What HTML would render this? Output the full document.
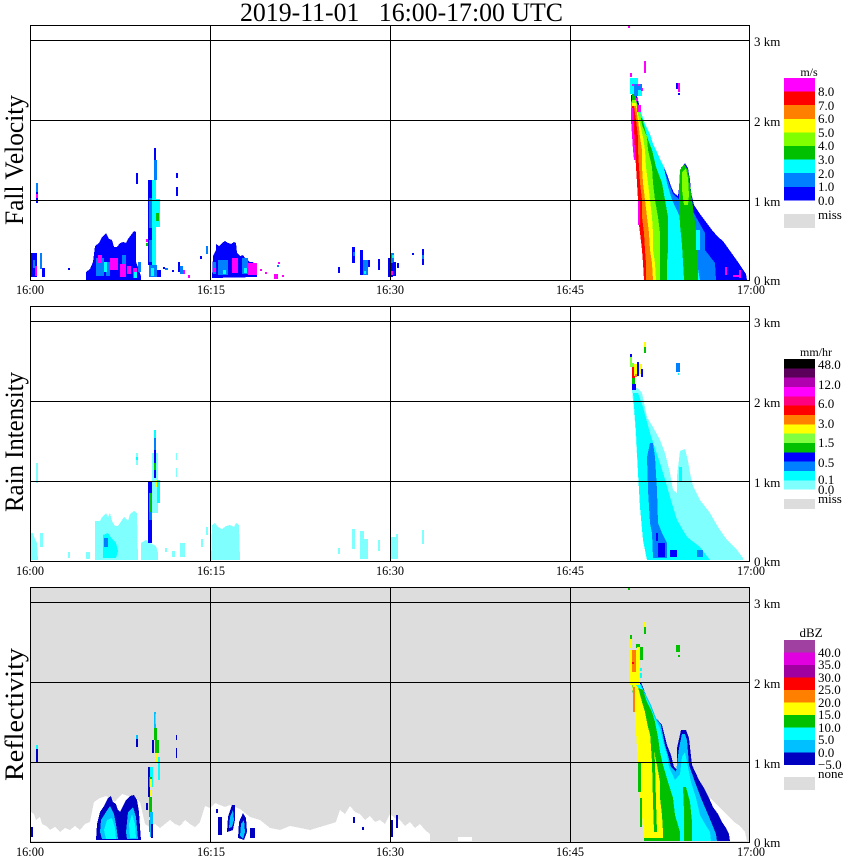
<!DOCTYPE html>
<html><head><meta charset="utf-8"><style>
html,body{margin:0;padding:0;background:#fff;}
svg{display:block;}
text{font-family:"Liberation Serif",serif;fill:#000;}
</style></head><body>
<svg width="850" height="868" viewBox="0 0 850 868" xmlns="http://www.w3.org/2000/svg">
<rect x="0" y="0" width="850" height="868" fill="#fff"/>
<text x="240" y="21" font-size="26" textLength="323" lengthAdjust="spacingAndGlyphs" xml:space="preserve">2019-11-01&#160;&#160;&#160;16:00-17:00&#160;UTC</text>

<!-- Y labels -->
<text transform="translate(23,225) rotate(-90)" font-size="26" textLength="130" lengthAdjust="spacingAndGlyphs">Fall Velocity</text>
<text transform="translate(23,512) rotate(-90)" font-size="26" textLength="140" lengthAdjust="spacingAndGlyphs">Rain Intensity</text>
<text transform="translate(23,781) rotate(-90)" font-size="26" textLength="133" lengthAdjust="spacingAndGlyphs">Reflectivity</text>

<!-- ================= PANEL 1 ================= -->
<g shape-rendering="crispEdges">
<rect x="30" y="253" width="7" height="24" fill="#0000ff"/>
<rect x="33" y="260" width="2" height="8" fill="#0080ff"/>
<rect x="35" y="266" width="2" height="10" fill="#ff00ff"/>
<rect x="40" y="253" width="2" height="16" fill="#0080ff"/>
<rect x="42" y="268" width="3" height="9" fill="#0000ff"/>
<rect x="36" y="183" width="2" height="20" fill="#0000ff"/>
<rect x="36" y="183" width="2" height="9" fill="#0080ff"/>
<rect x="36" y="194" width="2" height="4" fill="#ff00ff"/>
<rect x="68" y="268" width="2" height="2" fill="#0000ff"/>
<polygon fill="#0000ff" points="86,280 86,272 90,269 93,262 95,246 99,243 102,237 106,233 109,239 112,240 114,247 117,247 120,243 123,242 126,243 128,239 131,235 134,231 136,232 136,262 139,270 141,276 141,280"/>
<rect x="96" y="258" width="8" height="18" fill="#0080ff"/>
<rect x="106" y="262" width="4" height="14" fill="#0080ff"/>
<rect x="122" y="255" width="4" height="10" fill="#0080ff"/>
<rect x="138" y="262" width="3" height="10" fill="#0080ff"/>
<rect x="98" y="255" width="4" height="8" fill="#ff00ff"/>
<rect x="110" y="258" width="8" height="12" fill="#ff00ff"/>
<rect x="120" y="264" width="6" height="13" fill="#ff00ff"/>
<rect x="127" y="266" width="4" height="8" fill="#ff00ff"/>
<rect x="133" y="268" width="4" height="10" fill="#ff00ff"/>
<rect x="104" y="262" width="3" height="10" fill="#00ffff"/>
<rect x="134" y="272" width="3" height="6" fill="#00ffff"/>
<rect x="136" y="173" width="2" height="11" fill="#0000ff"/>
<rect x="154" y="148" width="2" height="12" fill="#0000ff"/>
<rect x="154" y="160" width="3" height="20" fill="#0080ff"/>
<rect x="148" y="180" width="4" height="85" fill="#0000ff"/>
<rect x="149" y="198" width="3" height="30" fill="#0080ff"/>
<rect x="152" y="180" width="4" height="90" fill="#00ffff"/>
<rect x="156" y="199" width="4" height="28" fill="#00ffff"/>
<rect x="156" y="213" width="3" height="8" fill="#00c000"/>
<rect x="149" y="240" width="3" height="22" fill="#0080ff"/>
<rect x="146" y="239" width="2" height="3" fill="#ff00ff"/>
<rect x="146" y="243" width="2" height="3" fill="#00c000"/>
<rect x="149" y="265" width="8" height="12" fill="#0080ff"/>
<rect x="151" y="268" width="3" height="8" fill="#00ffff"/>
<rect x="176" y="173" width="2" height="5" fill="#0000ff"/>
<rect x="176" y="187" width="2" height="9" fill="#0000ff"/>
<rect x="157" y="270" width="4" height="7" fill="#0000ff"/>
<rect x="163" y="267" width="2" height="2" fill="#0000ff"/>
<rect x="165" y="268" width="3" height="2" fill="#0080ff"/>
<rect x="172" y="270" width="2" height="2" fill="#0000ff"/>
<rect x="178" y="262" width="2" height="10" fill="#0000ff"/>
<rect x="180" y="266" width="3" height="8" fill="#0080ff"/>
<rect x="183" y="270" width="2" height="4" fill="#ff00ff"/>
<rect x="188" y="275" width="2" height="3" fill="#ff00ff"/>
<rect x="200" y="256" width="2" height="3" fill="#0000ff"/>
<rect x="206" y="246" width="2" height="8" fill="#0080ff"/>
<polygon fill="#0000ff" points="212,278 213,256 216,250 216,244 219,246 222,243 225,241 228,243 231,244 234,242 236,243 237,253 240,256 243,255 245,258 250,262 253,262 256,266 257,277"/>
<rect x="218" y="260" width="10" height="15" fill="#0080ff"/>
<rect x="232" y="258" width="6" height="15" fill="#ff00ff"/>
<rect x="242" y="258" width="6" height="16" fill="#0080ff"/>
<rect x="248" y="263" width="9" height="12" fill="#ff00ff"/>
<rect x="244" y="268" width="3" height="5" fill="#00ffff"/>
<rect x="213" y="262" width="3" height="12" fill="#0080ff"/>
<rect x="213" y="268" width="3" height="4" fill="#ff00ff"/>
<rect x="223" y="270" width="3" height="4" fill="#00ffff"/>
<rect x="274" y="274" width="4" height="5" fill="#ff00ff"/>
<rect x="278" y="262" width="2" height="2" fill="#ff00ff"/>
<rect x="277" y="265" width="2" height="2" fill="#0080ff"/>
<rect x="260" y="269" width="2" height="2" fill="#ff00ff"/>
<rect x="265" y="272" width="2" height="2" fill="#ff00ff"/>
<rect x="282" y="275" width="2" height="2" fill="#ff00ff"/>
<rect x="338" y="267" width="2" height="6" fill="#0000ff"/>
<rect x="352" y="247" width="3" height="16" fill="#0000ff"/>
<rect x="353" y="252" width="2" height="4" fill="#0080ff"/>
<rect x="360" y="250" width="3" height="25" fill="#0000ff"/>
<rect x="363" y="260" width="5" height="15" fill="#0080ff"/>
<rect x="364" y="271" width="2" height="3" fill="#00ffff"/>
<rect x="368" y="260" width="2" height="7" fill="#0000ff"/>
<rect x="378" y="259" width="2" height="11" fill="#0000ff"/>
<rect x="388" y="258" width="5" height="19" fill="#0000ff"/>
<rect x="391" y="253" width="3" height="10" fill="#0080ff"/>
<rect x="392" y="255" width="2" height="3" fill="#00ffff"/>
<rect x="390" y="271" width="3" height="4" fill="#ff00ff"/>
<rect x="393" y="262" width="3" height="14" fill="#0000ff"/>
<rect x="397" y="263" width="2" height="5" fill="#0000ff"/>
<rect x="412" y="253" width="2" height="2" fill="#0000ff"/>
<rect x="422" y="249" width="2" height="16" fill="#0000ff"/>
<rect x="422" y="255" width="2" height="4" fill="#0080ff"/>
<polygon fill="#0000ff" points="631,95 637,96 641,112 645,124 650,134 653,144 656,150 660,159 664,167 668,177 671,186 674,193 678,196 680,180 681,168 685,163 688,168 690,180 691,192 694,205 700,214 706,222 712,230 718,237 723,241 728,248 733,255 738,262 742,268 746,274 747,280 644,280 643,263 642,250 640,233 638,217 638,200 637,183 636,167 635,150 634,137 632,120"/>
<polygon fill="#0080ff" points="636,163 660,163 666,175 670,186 673,194 680,200 690,205 696,217 705,233 705,250 715,263 716,280 644,280 643,263 642,250 640,233 638,217 638,200 637,183 636,167"/>
<polygon fill="#00ffff" points="632,112 641,112 645,124 650,134 653,144 656,150 660,159 664,167 667,183 672,200 680,217 682,233 683,250 697,263 700,280 644,280 643,263 642,250 640,233 638,217 638,200 637,183 636,167 635,150 634,137 632,120"/>
<polygon fill="#00c000" points="632,118 642,118 647,137 652,150 656,167 662,183 665,200 668,217 668,233 668,250 667,263 667,280 644,280 643,263 642,250 640,233 638,217 638,200 637,183 636,167 635,150 634,137 632,120"/>
<polygon fill="#80ff00" points="632,100 636,100 640,112 642,125 647,137 648,150 652,167 653,183 655,200 658,217 660,233 660,250 660,263 660,280 644,280 643,263 642,250 640,233 638,217 638,200 637,183 636,167 635,150 634,137 632,120"/>
<polygon fill="#ffff00" points="632,103 636,103 639,120 643,137 645,150 646,167 648,183 650,200 652,217 653,233 653,250 655,263 656,280 644,280 643,263 642,250 640,233 638,217 638,200 637,183 636,167 635,150 634,137 632,120"/>
<polygon fill="#ff8000" points="632,106 636,106 638,120 640,137 642,150 642,167 643,183 645,200 647,217 649,233 650,250 652,263 653,280 644,280 643,263 642,250 640,233 638,217 638,200 637,183 636,167 635,150 634,137 632,120"/>
<polygon fill="#ff0000" points="632,106 634,106 636,120 638,137 638,150 639,167 640,183 642,200 642,217 644,233 645,250 646,263 646,280 644,280 643,263 642,250 640,233 638,217 638,200 637,183 636,167 635,150 634,137 632,120"/>
<polygon fill="#ff00ff" points="631,108 633,108 635,150 636,160 634,160 633,150 631,120"/>
<rect x="637" y="105" width="4" height="7" fill="#ff00ff"/>
<rect x="638" y="200" width="2" height="25" fill="#ff00ff"/>
<rect x="632" y="93" width="4" height="7" fill="#00c000"/>
<polygon fill="#00c000" points="680,170 684,164 688,170 690,185 692,200 694,215 696,230 698,248 698,280 684,280 683,262 682,245 680,225 679,205 679,188"/>
<polygon fill="#80ff00" points="682,172 686,168 688,178 689,195 688,205 684,205 682,190"/>
<rect x="696" y="230" width="4" height="20" fill="#00ffff"/>
<rect x="630" y="78" width="8" height="16" fill="#00ffff"/>
<rect x="634" y="84" width="8" height="12" fill="#0080ff"/>
<rect x="638" y="90" width="4" height="6" fill="#00ffff"/>
<rect x="632" y="84" width="2" height="2" fill="#ff00ff"/>
<rect x="638" y="84" width="2" height="2" fill="#ff00ff"/>
<rect x="641" y="88" width="2" height="3" fill="#ff00ff"/>
<rect x="630" y="73" width="2" height="4" fill="#ff00ff"/>
<rect x="644" y="61" width="2" height="12" fill="#ff00ff"/>
<rect x="636" y="98" width="2" height="3" fill="#ff00ff"/>
<rect x="676" y="83" width="2" height="6" fill="#0000ff"/>
<rect x="678" y="83" width="2" height="9" fill="#ff00ff"/>
<rect x="678" y="93" width="2" height="2" fill="#0000ff"/>
<rect x="628" y="26" width="2" height="2" fill="#ff00ff"/>
<rect x="725" y="267" width="2" height="8" fill="#ff00ff"/>
<rect x="733" y="275" width="6" height="2" fill="#ff00ff"/>
<rect x="739" y="270" width="2" height="8" fill="#ff00ff"/>
<rect x="741" y="278" width="4" height="2" fill="#0000ff"/>
</g>

<!-- ================= PANEL 2 ================= -->
<g transform="translate(0,281)" shape-rendering="crispEdges">
<rect x="36" y="182" width="2" height="20" fill="#80ffff"/>
<rect x="136" y="172" width="2" height="12" fill="#80ffff"/>
<rect x="136" y="176" width="2" height="3" fill="#00ffff"/>
<rect x="176" y="172" width="1" height="7" fill="#80ffff"/>
<rect x="176" y="187" width="1" height="9" fill="#80ffff"/>
<polygon fill="#80ffff" points="30,279 30,252 33,252 35,258 37,262 38,279"/>
<rect x="40" y="252" width="3" height="14" fill="#80ffff"/>
<rect x="68" y="271" width="2" height="6" fill="#80ffff"/>
<rect x="86" y="271" width="4" height="7" fill="#80ffff"/>
<polygon fill="#80ffff" points="95,279 95,240 100,240 102,236 106,232 108,236 110,232 112,240 115,245 118,245 120,242 124,236 128,240 130,233 134,230 137,232 138,279"/>
<polygon fill="#00ffff" points="103,254 108,252 112,258 116,262 118,270 116,277 103,277"/>
<rect x="104" y="257" width="4" height="9" fill="#0080ff"/>
<polygon fill="#80ffff" points="141,279 141,262 146,259 150,262 156,265 158,272 158,279"/>
<rect x="148" y="201" width="4" height="61" fill="#0000ff"/>
<rect x="149" y="212" width="3" height="19" fill="#00c000"/>
<rect x="149" y="231" width="3" height="8" fill="#0080ff"/>
<rect x="152" y="172" width="6" height="60" fill="#80ffff"/>
<rect x="154" y="149" width="2" height="8" fill="#00ffff"/>
<rect x="154" y="157" width="2" height="12" fill="#0080ff"/>
<rect x="154" y="169" width="2" height="13" fill="#0000ff"/>
<rect x="154" y="182" width="2" height="7" fill="#00c000"/>
<rect x="154" y="189" width="2" height="8" fill="#0000ff"/>
<rect x="156" y="199" width="2" height="7" fill="#ffff00"/>
<rect x="157" y="199" width="3" height="23" fill="#00ffff"/>
<rect x="165" y="267" width="2" height="4" fill="#80ffff"/>
<rect x="172" y="270" width="3" height="6" fill="#80ffff"/>
<rect x="180" y="262" width="5" height="14" fill="#80ffff"/>
<rect x="201" y="258" width="2" height="8" fill="#80ffff"/>
<rect x="206" y="246" width="2" height="8" fill="#80ffff"/>
<polygon fill="#80ffff" points="211,279 212,244 215,242 218,246 222,248 226,245 230,244 234,246 236,242 239,244 240,279"/>
<rect x="352" y="248" width="3" height="20" fill="#80ffff"/>
<rect x="360" y="250" width="4" height="28" fill="#80ffff"/>
<rect x="364" y="258" width="4" height="20" fill="#80ffff"/>
<rect x="378" y="259" width="2" height="11" fill="#80ffff"/>
<rect x="390" y="256" width="8" height="22" fill="#80ffff"/>
<rect x="396" y="253" width="2" height="10" fill="#80ffff"/>
<rect x="422" y="249" width="2" height="14" fill="#80ffff"/>
<rect x="338" y="267" width="2" height="6" fill="#80ffff"/>
<polygon fill="#80ffff" points="632,107 637,107 642,112 647,136 653,146 660,159 665,172 670,192 673,209 677,212 677,195 680,170 685,168 688,180 690,192 693,205 700,219 710,232 718,246 727,259 737,269 743,277 743,279 647,279 645,259 643,242 642,226 639,199 637,176 635,142 632,109"/>
<polygon fill="#00ffff" points="633,112 638,112 643,126 650,152 658,176 664,195 670,216 677,239 687,256 700,266 710,279 647,279 643,259 640,226 638,192 636,150"/>
<rect x="679" y="186" width="3" height="14" fill="#00ffff"/>
<polygon fill="#0080ff" points="650,162 653,162 655,176 657,209 658,242 662,252 667,262 667,277 653,277 652,252 650,242 648,209 647,176"/>
<rect x="658" y="262" width="7" height="14" fill="#0000ff"/>
<rect x="670" y="269" width="7" height="7" fill="#0000ff"/>
<rect x="656" y="252" width="2" height="8" fill="#0000ff"/>
<rect x="697" y="269" width="6" height="7" fill="#0080ff"/>
<rect x="644" y="61" width="2" height="5" fill="#ffff00"/>
<rect x="644" y="66" width="2" height="6" fill="#00c000"/>
<rect x="630" y="73" width="2" height="3" fill="#0000ff"/>
<rect x="630" y="76" width="2" height="10" fill="#80ff40"/>
<rect x="631" y="82" width="3" height="4" fill="#80ff40"/>
<rect x="632" y="86" width="3" height="11" fill="#ff0000"/>
<rect x="634" y="83" width="3" height="12" fill="#ffff00"/>
<rect x="637" y="81" width="2" height="14" fill="#0000ff"/>
<rect x="639" y="83" width="3" height="10" fill="#ffff00"/>
<rect x="641" y="88" width="2" height="8" fill="#0000ff"/>
<rect x="632" y="97" width="3" height="6" fill="#00c000"/>
<rect x="632" y="103" width="4" height="6" fill="#0000ff"/>
<rect x="635" y="93" width="2" height="3" fill="#ff8000"/>
<rect x="676" y="82" width="4" height="9" fill="#0080ff"/>
<rect x="678" y="92" width="1" height="2" fill="#00ffff"/>
</g>

<!-- ================= PANEL 3 ================= -->
<g transform="translate(0,562)" shape-rendering="crispEdges">
<rect x="31" y="26" width="718" height="254" fill="#dddddd"/>
<polygon fill="#ffffff" points="31,279 31,250 34,252 36,258 40,255 42,262 46,264 50,268 55,265 60,270 65,266 70,268 75,264 80,268 85,262 90,260 94,240 100,236 106,234 110,236 115,240 118,236 122,232 128,234 135,236 140,240 145,262 150,265 155,262 160,266 165,262 170,258 175,262 180,264 185,258 190,262 195,265 200,260 205,244 210,246 215,241 220,243 225,245 230,243 240,247 250,255 260,258 265,262 270,266 280,268 290,264 300,266 310,268 320,265 330,262 336,260 340,248 345,252 350,244 355,250 360,252 365,258 370,254 375,260 380,258 385,262 390,252 395,256 400,258 405,264 410,260 415,266 420,262 425,268 430,272 430,279"/>
<rect x="458" y="275" width="14" height="4" fill="#ffffff"/>
<polygon fill="#0000c0" points="96,278 97,262 100,250 104,244 108,236 111,234 113,240 116,242 118,248 120,250 123,244 126,238 130,234 134,233 137,238 139,250 140,265 141,278"/>
<polygon fill="#00c0ff" points="100,270 101,258 106,250 110,244 114,252 116,262 118,277 102,277"/>
<polygon fill="#00ffff" points="104,268 107,258 112,256 115,266 116,277 106,277"/>
<polygon fill="#00c0ff" points="126,270 128,250 133,245 136,255 138,277 127,277"/>
<polygon fill="#00ffff" points="129,262 132,252 135,262 136,276 130,276"/>
<rect x="154" y="150" width="2" height="16" fill="#00c0ff"/>
<rect x="155" y="152" width="1" height="10" fill="#00ffff"/>
<rect x="154" y="166" width="3" height="12" fill="#00c000"/>
<rect x="155" y="178" width="4" height="13" fill="#00c000"/>
<rect x="152" y="178" width="2" height="13" fill="#0000c0"/>
<rect x="156" y="191" width="2" height="9" fill="#ffff00"/>
<rect x="158" y="195" width="2" height="23" fill="#00ffff"/>
<rect x="148" y="205" width="2" height="30" fill="#0000c0"/>
<rect x="150" y="205" width="3" height="20" fill="#00ffff"/>
<rect x="149" y="215" width="3" height="10" fill="#00c000"/>
<rect x="150" y="217" width="2" height="8" fill="#ffff00"/>
<rect x="149" y="235" width="3" height="20" fill="#00c000"/>
<rect x="150" y="228" width="2" height="6" fill="#ffff00"/>
<rect x="149" y="258" width="3" height="12" fill="#00c000"/>
<rect x="150" y="250" width="3" height="25" fill="#00c0ff"/>
<rect x="151" y="262" width="2" height="14" fill="#0000c0"/>
<rect x="136" y="173" width="2" height="12" fill="#0000c0"/>
<rect x="136" y="173" width="2" height="4" fill="#00c0ff"/>
<rect x="176" y="173" width="1" height="5" fill="#0000c0"/>
<rect x="176" y="186" width="1" height="10" fill="#0000c0"/>
<rect x="36" y="183" width="2" height="4" fill="#00ffff"/>
<rect x="36" y="187" width="2" height="13" fill="#0000c0"/>
<rect x="30" y="265" width="3" height="10" fill="#0000c0"/>
<rect x="146" y="241" width="2" height="7" fill="#0000c0"/>
<rect x="216" y="247" width="2" height="4" fill="#0000c0"/>
<rect x="218" y="255" width="4" height="18" fill="#0000c0"/>
<polygon fill="#0000c0" points="227,270 228,255 232,243 235,243 235,258 233,268"/>
<polygon fill="#00c0ff" points="229,266 230,255 233,248 234,258 232,265"/>
<polygon fill="#0000c0" points="238,276 239,260 243,251 246,256 247,270 244,278"/>
<polygon fill="#00c0ff" points="240,274 241,262 244,258 245,270 243,277"/>
<rect x="250" y="266" width="5" height="10" fill="#0000c0"/>
<rect x="353" y="255" width="2" height="6" fill="#0000c0"/>
<rect x="362" y="265" width="2" height="3" fill="#0000c0"/>
<rect x="390" y="258" width="3" height="17" fill="#0000c0"/>
<rect x="396" y="253" width="2" height="13" fill="#0000c0"/>
<polygon fill="#ffffff" points="700,230 710,236 716,242 722,248 728,254 734,260 740,264 745,270 747,279 700,279"/>
<polygon fill="#0000c0" points="632,120 641,120 646,133 651,143 656,156 662,163 667,183 671,193 674,205 677,208 677,186 681,168 686,168 689,176 692,203 699,218 704,226 709,236 713,245 718,252 722,260 726,266 729,272 730,279 644,279 642,253 640,236 638,203 637,186 635,153"/>
<polygon fill="#00c0ff" points="632,121 641,122 646,133 651,143 656,156 661,163 665,183 668,193 671,205 676,210 679,186 682,172 685,172 687,178 689,203 695,220 701,236 707,250 712,262 716,272 717,279 644,279 642,253 640,236 638,203 637,186 635,153"/>
<polygon fill="#00ffff" points="632,122 640,122 645,133 650,143 655,156 660,166 664,183 667,193 669,205 675,218 680,212 682,195 685,190 688,205 691,220 696,236 700,253 705,262 710,270 711,279 644,279 642,253 640,236 638,203 637,186 635,153"/>
<polygon fill="#00c000" points="683,225 686,225 690,240 692,260 692,279 684,279 684,250"/>
<polygon fill="#00c000" points="632,123 643,128 647,140 652,150 655,160 658,175 660,190 663,203 668,220 673,236 675,253 680,270 680,279 644,279 642,253 640,236 638,203 637,186 635,153"/>
<polygon fill="#ffff00" points="632,120 638,125 642,140 645,150 648,165 652,180 657,203 660,220 660,236 662,253 663,270 663,279 644,279 642,253 640,236 638,203 637,186 635,153"/>
<polygon fill="#00c000" points="650,170 652,170 655,200 656,240 657,270 654,270 653,240 652,200"/>
<rect x="638" y="200" width="3" height="30" fill="#00c000"/>
<rect x="640" y="236" width="2" height="29" fill="#00c000"/>
<rect x="644" y="276" width="19" height="3" fill="#00c000"/>
<rect x="630" y="88" width="10" height="35" fill="#ffff00"/>
<rect x="632" y="88" width="4" height="22" fill="#ff8000"/>
<rect x="633" y="125" width="2" height="25" fill="#ff8000"/>
<rect x="630" y="73" width="2" height="4" fill="#00c000"/>
<rect x="630" y="77" width="2" height="9" fill="#ffff00"/>
<rect x="636" y="82" width="4" height="4" fill="#00c000"/>
<rect x="637" y="85" width="3" height="13" fill="#ffff00"/>
<rect x="640" y="85" width="3" height="13" fill="#00c000"/>
<rect x="632" y="100" width="2" height="2" fill="#ff0000"/>
<rect x="640" y="106" width="2" height="3" fill="#00ffff"/>
<rect x="640" y="111" width="2" height="5" fill="#00ffff"/>
<rect x="676" y="83" width="4" height="7" fill="#00c000"/>
<rect x="678" y="93" width="2" height="2" fill="#00c000"/>
<rect x="644" y="60" width="2" height="5" fill="#ffff00"/>
<rect x="644" y="65" width="2" height="7" fill="#00c000"/>
<rect x="628" y="26" width="2" height="2" fill="#00c000"/>
</g>

<!-- ================= FRAMES / GRID / TICKS ================= -->
<g id="frame" fill="none" stroke="#000" stroke-width="1" shape-rendering="crispEdges">
<rect x="30.5" y="25.5" width="719" height="255"/>
<line x1="30" y1="40.5" x2="750" y2="40.5"/>
<line x1="30" y1="120.5" x2="750" y2="120.5"/>
<line x1="30" y1="200.5" x2="750" y2="200.5"/>
<line x1="210.5" y1="25" x2="210.5" y2="281"/>
<line x1="390.5" y1="25" x2="390.5" y2="281"/>
<line x1="570.5" y1="25" x2="570.5" y2="281"/>
</g>
<use href="#frame" transform="translate(0,281)"/>
<use href="#frame" transform="translate(0,562)"/>

<g id="ticks" font-size="13">
<text x="30" y="294" text-anchor="middle" textLength="28" lengthAdjust="spacingAndGlyphs" font-size="13">16:00</text>
<text x="211" y="294" text-anchor="middle" textLength="28" lengthAdjust="spacingAndGlyphs" font-size="13">16:15</text>
<text x="390" y="294" text-anchor="middle" textLength="28" lengthAdjust="spacingAndGlyphs" font-size="13">16:30</text>
<text x="570" y="294" text-anchor="middle" textLength="28" lengthAdjust="spacingAndGlyphs" font-size="13">16:45</text>
<text x="751" y="294" text-anchor="middle" textLength="28" lengthAdjust="spacingAndGlyphs" font-size="13">17:00</text>
<text x="754" y="46" font-size="13">3 km</text>
<text x="754" y="126" font-size="13">2 km</text>
<text x="754" y="206" font-size="13">1 km</text>
<text x="754" y="285" font-size="13">0 km</text>
</g>
<use href="#ticks" transform="translate(0,281)"/>
<use href="#ticks" transform="translate(0,562)"/>

<!-- ===== Legend 1 ===== -->
<g shape-rendering="crispEdges">
<text x="809" y="76" text-anchor="middle" font-size="12">m/s</text>
<rect x="784" y="78" width="31" height="14" fill="#ff00ff"/>
<rect x="784" y="91.6" width="31" height="14" fill="#ff0000"/>
<rect x="784" y="105.2" width="31" height="14" fill="#ff8000"/>
<rect x="784" y="118.8" width="31" height="14" fill="#ffff00"/>
<rect x="784" y="132.4" width="31" height="14" fill="#80ff00"/>
<rect x="784" y="146" width="31" height="14" fill="#00c000"/>
<rect x="784" y="159.6" width="31" height="14" fill="#00ffff"/>
<rect x="784" y="173.2" width="31" height="14" fill="#0080ff"/>
<rect x="784" y="186.8" width="31" height="13.6" fill="#0000ff"/>
<rect x="784" y="214" width="31" height="14" fill="#dddddd"/>
</g>
<g font-size="13">
<text x="818" y="96">8.0</text>
<text x="818" y="110">7.0</text>
<text x="818" y="123">6.0</text>
<text x="818" y="137">5.0</text>
<text x="818" y="150">4.0</text>
<text x="818" y="164">3.0</text>
<text x="818" y="178">2.0</text>
<text x="818" y="191">1.0</text>
<text x="818" y="205">0.0</text>
<text x="818" y="219">miss</text>
</g>

<!-- ===== Legend 2 ===== -->
<g transform="translate(0,281)">
<g shape-rendering="crispEdges">
<text x="816" y="75" text-anchor="middle" font-size="12">mm/hr</text>
<rect x="784" y="78" width="31" height="9.6" fill="#000000"/>
<rect x="784" y="87.33" width="31" height="9.6" fill="#5a005a"/>
<rect x="784" y="96.67" width="31" height="9.6" fill="#b000b0"/>
<rect x="784" y="106" width="31" height="9.6" fill="#ff00ff"/>
<rect x="784" y="115.33" width="31" height="9.6" fill="#ff0080"/>
<rect x="784" y="124.67" width="31" height="9.6" fill="#ff0000"/>
<rect x="784" y="134" width="31" height="9.6" fill="#ff8000"/>
<rect x="784" y="143.33" width="31" height="9.6" fill="#ffff00"/>
<rect x="784" y="152.67" width="31" height="9.6" fill="#80ff40"/>
<rect x="784" y="162" width="31" height="9.6" fill="#00c000"/>
<rect x="784" y="171.33" width="31" height="9.6" fill="#0000ff"/>
<rect x="784" y="180.67" width="31" height="9.6" fill="#0080ff"/>
<rect x="784" y="190" width="31" height="9.6" fill="#00ffff"/>
<rect x="784" y="199.33" width="31" height="9.4" fill="#80ffff"/>
<rect x="784" y="218" width="31" height="10" fill="#dddddd"/>
</g>
<g font-size="13">
<text x="818" y="88">48.0</text>
<text x="818" y="108">12.0</text>
<text x="818" y="127">6.0</text>
<text x="818" y="147">3.0</text>
<text x="818" y="166">1.5</text>
<text x="818" y="186">0.5</text>
<text x="818" y="203">0.1</text>
<text x="818" y="213">0.0</text>
<text x="818" y="222">miss</text>
</g>
</g>

<!-- ===== Legend 3 ===== -->
<g transform="translate(0,562)">
<g shape-rendering="crispEdges">
<text x="811" y="75" text-anchor="middle" font-size="13">dBZ</text>
<rect x="784" y="78" width="31" height="12.8" fill="#a040a0"/>
<rect x="784" y="90.5" width="31" height="12.8" fill="#e000e0"/>
<rect x="784" y="103" width="31" height="12.8" fill="#a000a0"/>
<rect x="784" y="115.5" width="31" height="12.8" fill="#ff0000"/>
<rect x="784" y="128" width="31" height="12.8" fill="#ff8000"/>
<rect x="784" y="140.5" width="31" height="12.8" fill="#ffff00"/>
<rect x="784" y="153" width="31" height="12.8" fill="#00c000"/>
<rect x="784" y="165.5" width="31" height="12.8" fill="#00ffff"/>
<rect x="784" y="178" width="31" height="12.8" fill="#00c0ff"/>
<rect x="784" y="190.5" width="31" height="12.5" fill="#0000c0"/>
<rect x="784" y="215" width="31" height="13" fill="#dddddd"/>
</g>
<g font-size="13">
<text x="818" y="95">40.0</text>
<text x="818" y="107">35.0</text>
<text x="818" y="120">30.0</text>
<text x="818" y="132">25.0</text>
<text x="818" y="145">20.0</text>
<text x="818" y="157">15.0</text>
<text x="818" y="170">10.0</text>
<text x="818" y="182">5.0</text>
<text x="818" y="195">0.0</text>
<text x="818" y="207">−5.0</text>
<text x="818" y="216">none</text>
</g>
</g>
</svg>
</body></html>
